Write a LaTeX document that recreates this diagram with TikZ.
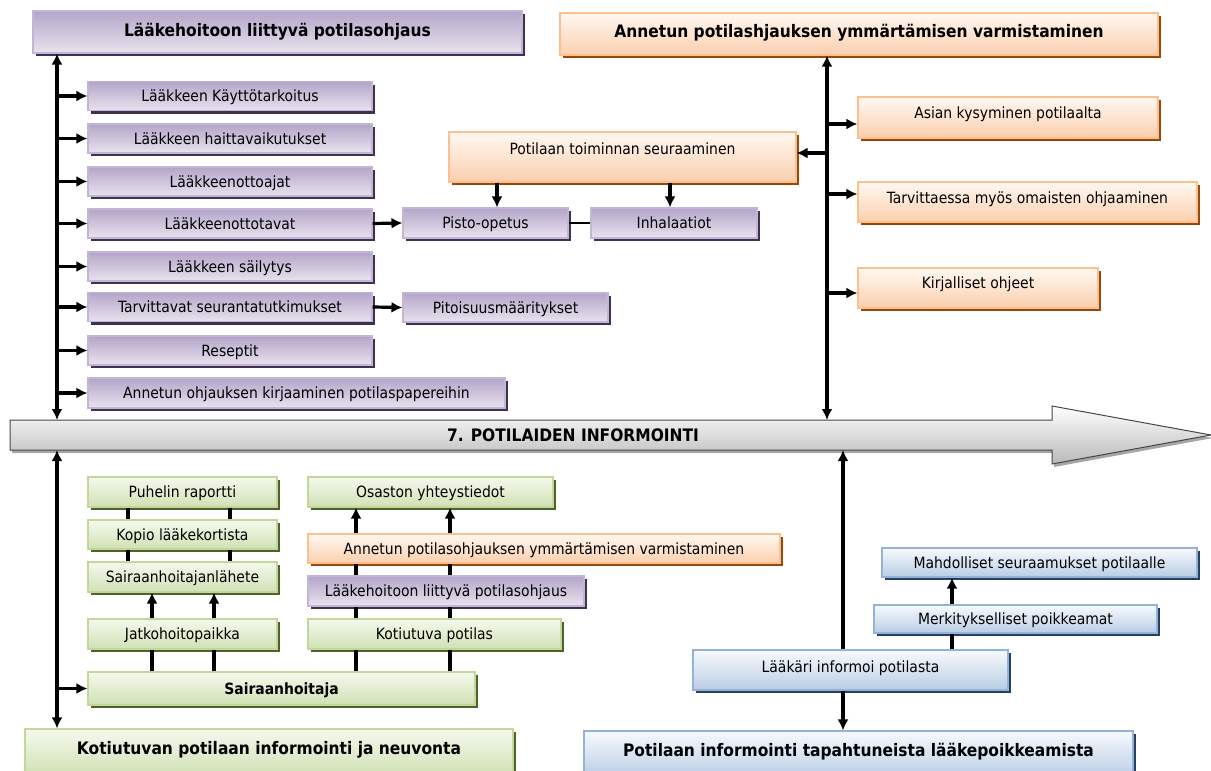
\documentclass[tikz,border=0pt]{standalone}
\usepackage{fontspec}
\usetikzlibrary{arrows.meta}
\newfontfamily\boxfont{DejaVu Sans Condensed}
\newcommand\fsm{\boxfont\fontsize{15.5}{18}\selectfont}
\newcommand\fsb{\boxfont\bfseries\fontsize{15.5}{18}\selectfont}
\newcommand\fttl{\boxfont\bfseries\fontsize{17.2}{20}\selectfont}

\definecolor{purpS}{HTML}{403152}
\definecolor{purpB}{HTML}{C3B6D5}
\definecolor{purpT}{HTML}{B4A5C9}
\definecolor{purpL}{HTML}{E8E3EE}
\definecolor{orS}{HTML}{984807}
\definecolor{orB}{HTML}{FAC090}
\definecolor{orT}{HTML}{FFF8F2}
\definecolor{orL}{HTML}{FBCFAE}
\definecolor{grS}{HTML}{4F6228}
\definecolor{grB}{HTML}{C3D69B}
\definecolor{grT}{HTML}{F5F9EE}
\definecolor{grL}{HTML}{D0E1B4}
\definecolor{blS}{HTML}{254061}
\definecolor{blB}{HTML}{95B3D7}
\definecolor{blT}{HTML}{F7FAFD}
\definecolor{blL}{HTML}{B9CDE5}

\tikzset{
  card/.style={inner sep=0pt, line width=1.1pt, font=\fsm, text height=11.3pt, text depth=0pt, align=center},
  shadowed/.style={preaction={fill=#1, transform canvas={shift={(3pt,-3pt)}}}},
  purp/.style={card, shadowed=purpS, draw=purpB, top color=purpT, bottom color=purpL},
  oran/.style={card, shadowed=orS, draw=orB, top color=orT, bottom color=orL},
  gren/.style={card, shadowed=grS, draw=grB, top color=grT, bottom color=grL},
  blu/.style={card, shadowed=blS, draw=blB, top color=blT, bottom color=blL},
  big/.style={font=\fttl, text height=12.5pt},
  up/.style={text depth={2*(#1)*1pt}},
  sz/.style 2 args={minimum width=#1, minimum height=#2},
  ln/.style={line width=3.2pt},
  ar/.style={line width=3.2pt, -{Latex[length=11pt,width=11pt]}},
  arb/.style={line width=3.2pt, {Latex[length=11pt,width=11pt]}-{Latex[length=11pt,width=11pt]}},
}

\begin{document}
\begin{tikzpicture}[x=1pt,y=-1pt]
\useasboundingbox (0,0) rectangle (1211,771);

% main flow arrow
\fill[gray!70, transform canvas={shift={(2pt,-3pt)}}]
  (10,420) -- (1052,420) -- (1052,406) -- (1211,435) -- (1052,464) -- (1052,450) -- (10,450) -- cycle;
\draw[draw=gray!55!black, line width=1pt, top color=white, bottom color=gray!55]
  (10,420) -- (1052,420) -- (1052,406) -- (1211,435) -- (1052,464) -- (1052,450) -- (10,450) -- cycle;
\node[font=\fttl] (flow) at (573,435) {7. POTILAIDEN INFORMOINTI};

% spine and helper coordinates
\coordinate (sL) at (57,0);
\coordinate (sR) at (827,0);
\coordinate (sBR) at (843,0);
\coordinate (bTL) at (57,420);
\coordinate (bTR) at (827,420);
\coordinate (bBL) at (57,450);
\coordinate (bBR) at (843,450);
\coordinate (c1) at (497,0);
\coordinate (c2) at (670,0);
\coordinate (ya) at (0,124);
\coordinate (yp) at (0,153);
\coordinate (yt) at (0,194);
\coordinate (yk) at (0,293);
\coordinate (g1) at (128,0);
\coordinate (g2) at (230,0);
\coordinate (g3) at (152,0);
\coordinate (g4) at (214,0);
\coordinate (g5) at (356,0);
\coordinate (g6) at (450,0);
\coordinate (g7) at (952,0);

% upper left: medication guidance
\node[purp, big, up=2, sz={489}{42}] (tl) at (277.5,32) {Lääkehoitoon liittyvä potilasohjaus};
\node[purp, sz={284}{29}] (i1) at (230,96) {Lääkkeen Käyttötarkoitus};
\node[purp, sz={284}{29}] (i2) at (230,138.5) {Lääkkeen haittavaikutukset};
\node[purp, sz={284}{29}] (i3) at (230,181.5) {Lääkkeenottoajat};
\node[purp, sz={284}{29}] (i4) at (230,223.5) {Lääkkeenottotavat};
\node[purp, sz={284}{29}] (i5) at (230,266.5) {Lääkkeen säilytys};
\node[purp, sz={284}{29}] (i6) at (230,307) {Tarvittavat seurantatutkimukset};
\node[purp, sz={284}{29}] (i7) at (230,350.5) {Reseptit};
\node[purp, sz={417}{30}] (i8) at (296.5,393) {Annetun ohjauksen kirjaaminen potilaspapereihin};
\node[purp, sz={165}{30}] (pisto) at (485.5,223) {Pisto-opetus};
\node[purp, sz={166}{30}] (inh) at (674,223) {Inhalaatiot};
\node[purp, sz={205}{29}] (pit) at (505.5,307.5) {Pitoisuusmääritykset};
\node[oran, up=8, sz={347}{50}] (pt) at (622.5,157) {Potilaan toiminnan seuraaminen};

% upper right: checking understanding
\node[oran, big, up=3, sz={598}{42}] (tr) at (859,34) {Annetun potilashjauksen ymmärtämisen varmistaminen};
\node[oran, up=4.5, sz={300}{41}] (as) at (1008,117.5) {Asian kysyminen potilaalta};
\node[oran, up=4, sz={339}{40}] (tv) at (1027.5,202) {Tarvittaessa myös omaisten ohjaaminen};
\node[oran, up=5, sz={240}{40}] (kj) at (978,288) {Kirjalliset ohjeet};

% lower left: discharge information
\node[gren, sz={189}{30}] (pr) at (182.5,492) {Puhelin raportti};
\node[gren, sz={189}{29}] (kp) at (182.5,534.5) {Kopio lääkekortista};
\node[gren, sz={189}{30}] (sl) at (182.5,577) {Sairaanhoitajanlähete};
\node[gren, sz={189}{30}] (jh) at (182.5,634) {Jatkohoitopaikka};
\node[gren, font=\fsb, sz={387}{33}] (sh) at (281.5,688.5) {Sairaanhoitaja};
\node[gren, big, up=4, sz={488}{46}] (kt) at (269,752) {Kotiutuvan potilaan informointi ja neuvonta};
\node[gren, sz={245}{30}] (oy) at (430.5,492) {Osaston yhteystiedot};
\node[oran, sz={472}{29}] (apv) at (544,548.5) {Annetun potilasohjauksen ymmärtämisen varmistaminen};
\node[purp, sz={276}{30}] (lhp) at (446,591) {Lääkehoitoon liittyvä potilasohjaus};
\node[gren, sz={253}{30}] (kpo) at (434.5,634) {Kotiutuva potilas};

% lower right: medication deviations
\node[blu, sz={315}{29}] (mh) at (1039.5,562.5) {Mahdolliset seuraamukset potilaalle};
\node[blu, sz={283}{28}] (mk) at (1015.5,619) {Merkitykselliset poikkeamat};
\node[blu, up=3, sz={315}{40}] (li) at (850.5,670) {Lääkäri informoi potilasta};
\node[blu, big, up=4, sz={549}{46}] (pi) at (858.5,754) {Potilaan informointi tapahtuneista lääkepoikkeamista};

% connectors, upper left
\draw[arb] (tl.south -| sL) -- (bTL);
\foreach \n in {i1,i2,i3,i4,i5,i6,i7,i8}
  \draw[ar] (\n.west -| sL) -- (\n.west);
\draw[ar] (i4.east) -- (pisto.west);
\draw[ar] (i6.east) -- (pit.west);
\draw[line width=2.2pt] (pisto.east) -- (inh.west);
\draw[ar] (pt.south -| c1) -- (pisto.north -| c1);
\draw[ar] (pt.south -| c2) -- (inh.north -| c2);

% connectors, upper right
\draw[arb] (tr.south -| sR) -- (bTR);
\draw[ar] (sR |- ya) -- (as.west |- ya);
\draw[ar] (sR |- yt) -- (tv.west |- yt);
\draw[ar] (sR |- yk) -- (kj.west |- yk);
\draw[ar] (sR |- yp) -- (pt.east |- yp);

% connectors, lower left
\draw[arb] (bBL) -- (kt.north -| sL);
\draw[ar] (sh.west -| sL) -- (sh.west);
\foreach \g in {g1,g2}{
  \draw[ln] (pr.south -| \g) -- (kp.north -| \g);
  \draw[ln] (kp.south -| \g) -- (sl.north -| \g);
}
\foreach \g in {g3,g4}{
  \draw[ar] (jh.north -| \g) -- (sl.south -| \g);
  \draw[ln] (sh.north -| \g) -- (jh.south -| \g);
}
\foreach \g in {g5,g6}{
  \draw[ln] (sh.north -| \g) -- (kpo.south -| \g);
  \draw[ln] (kpo.north -| \g) -- (lhp.south -| \g);
  \draw[ln] (lhp.north -| \g) -- (apv.south -| \g);
  \draw[ar] (apv.north -| \g) -- (oy.south -| \g);
}

% connectors, lower right
\draw[ar] (li.north -| sBR) -- (bBR);
\draw[ar] (li.south -| sBR) -- (pi.north -| sBR);
\draw[ln] (li.north -| g7) -- (mk.south -| g7);
\draw[ar] (mk.north -| g7) -- (mh.south -| g7);
\end{tikzpicture}
\end{document}
